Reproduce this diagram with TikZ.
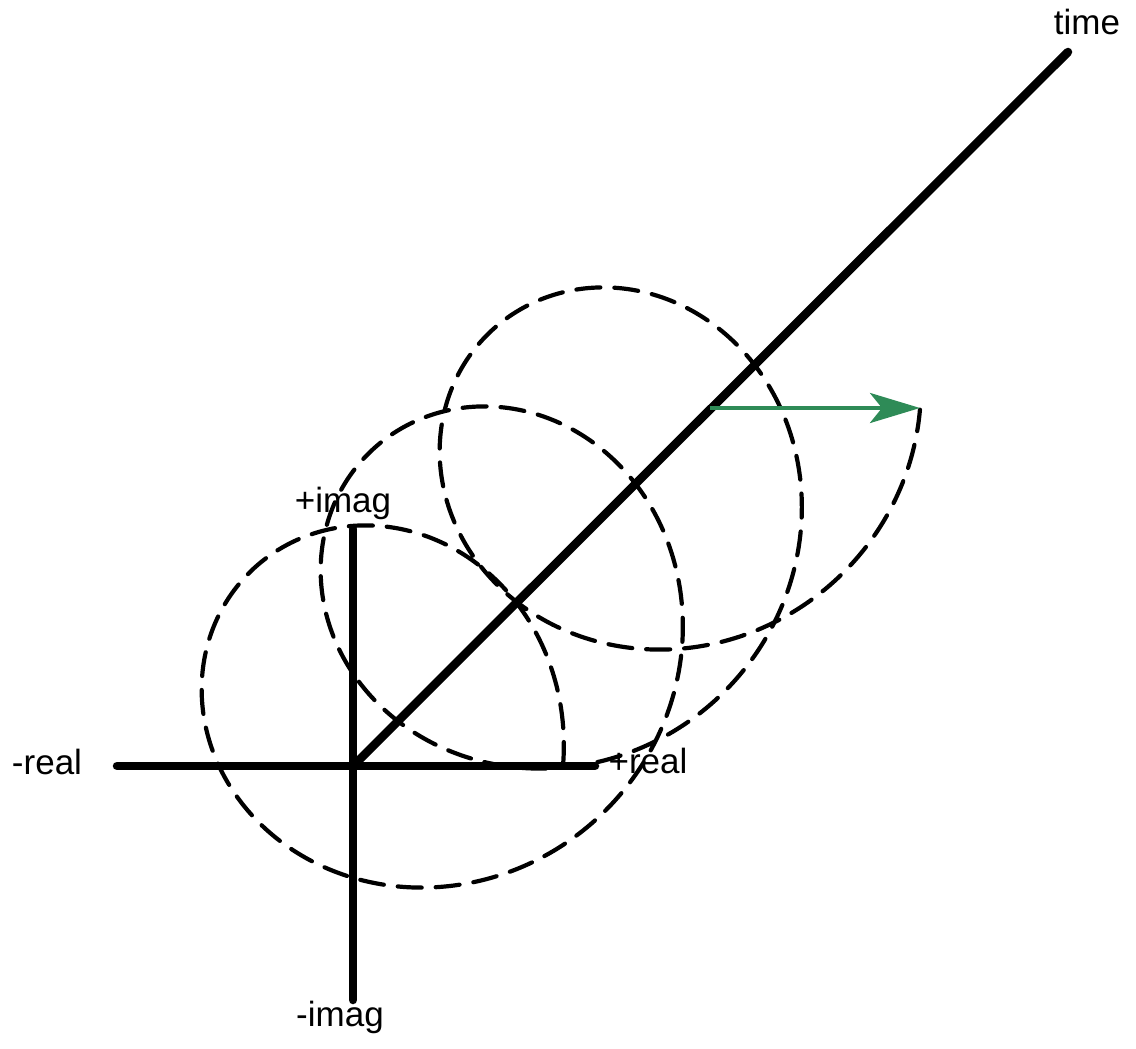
\documentclass[tikz,border=0pt]{standalone}
\usepackage{fontspec}
\setmainfont{Liberation Sans}
\usetikzlibrary{arrows.meta}
\definecolor{arrgreen}{RGB}{46,139,87}
\begin{document}
\begin{tikzpicture}[x=1pt,y=-1pt,
  axis/.style={line width=8.5pt, line cap=round},
  helix/.style={line width=4.2pt, line cap=round, dash pattern=on 24pt off 14pt},
  lbl/.style={anchor=base, inner sep=0pt, font=\fontsize{35}{42}\selectfont},
  vec/.style={line width=4.5pt, draw=arrgreen, -{Stealth[length=50pt,width=30pt,inset=12pt,fill=arrgreen]}}]
\useasboundingbox (0,0) rectangle (1136,1049);
\coordinate (O) at (353,766);
\coordinate (realL) at (117,766);
\coordinate (realR) at (595,766);
\coordinate (imagT) at (353,529);
\coordinate (imagB) at (353,1000);
\coordinate (timeT) at (1068,52);
\coordinate (arrS) at (710,408);
\coordinate (arrE) at (920,408);
\draw[axis] (realL) -- (realR);
\draw[axis] (imagT) -- (imagB);
\draw[axis] (O) -- (timeT);
\draw[helix] plot[domain=0:6*pi, samples=700, smooth, variable=\t]
  ({353+210*cos(\t r)+18.94*\t}, {766-210*sin(\t r)-18.94*\t});
\draw[vec] (arrS) -- (arrE);
\node[lbl] (tlabel) at (1087,35) {time};
\node[lbl] (rneg) at (47,774) {-real};
\node[lbl] (rpos) at (648,773) {+real};
\node[lbl] (ipos) at (343,512) {+imag};
\node[lbl] (ineg) at (340,1026) {-imag};
\end{tikzpicture}
\end{document}
